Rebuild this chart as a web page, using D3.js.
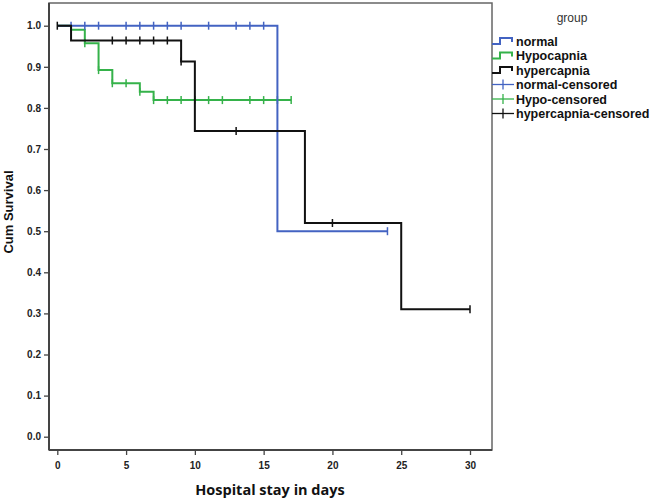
<!DOCTYPE html>
<html>
<head>
<meta charset="utf-8">
<script src="https://cdn.jsdelivr.net/npm/d3@7"></script>
<style>
  html, body { margin: 0; padding: 0; background: #fff; }
  svg { display: block; }
</style>
</head>
<body>
<svg id="chart" width="653" height="501"></svg>
<script>
// ---- data ----
const groups = ["normal", "Hypocapnia", "hypercapnia"];
const censorLabels = ["normal-censored", "Hypo-censored", "hypercapnia-censored"];

const normalT = [0, 16, 24];
const normalS = [1.0, 0.5, 0.5];
const normalCensT = [1, 2, 3, 5, 6, 7, 8, 9, 11, 13, 14, 15, 24];

const hypoT = [0, 1, 2, 3, 4, 6, 7, 17];
const hypoS = [1.0, 0.99, 0.957, 0.892, 0.86, 0.839, 0.819, 0.819];
const hypoCensT = [2, 3, 4, 5, 6, 7, 8, 9, 10, 11, 12, 14, 15, 16, 17];

const hyperT = [0, 1, 9, 10, 18, 25, 30];
const hyperS = [1.0, 0.964, 0.913, 0.744, 0.52, 0.31, 0.31];
const hyperCensT = [0, 4, 5, 6, 7, 8, 9, 13, 20, 30];

const xTicks = [0, 5, 10, 15, 20, 25, 30];
const yTicks = [0, 0.1, 0.2, 0.3, 0.4, 0.5, 0.6, 0.7, 0.8, 0.9, 1.0];

const colors = ["#4363c2", "#35b24a", "#111111"];

// ---- layout ----
const svg = d3.select("#chart");
const frame = { left: 49, top: 3, right: 492, bottom: 450 };
const x = d3.scaleLinear().domain([0, 30]).range([57.3, 470]);
const y = d3.scaleLinear().domain([0, 1]).range([436.7, 25.7]);

// frame
svg.append("rect")
  .attr("x", frame.left).attr("y", frame.top)
  .attr("width", frame.right - frame.left).attr("height", frame.bottom - frame.top)
  .attr("fill", "none").attr("stroke", "#666").attr("stroke-width", 1.5);
// axis lines (darker)
svg.append("line").attr("x1", frame.left).attr("x2", frame.left)
  .attr("y1", frame.top).attr("y2", frame.bottom)
  .attr("stroke", "#444").attr("stroke-width", 2);
svg.append("line").attr("x1", frame.left).attr("x2", frame.right)
  .attr("y1", frame.bottom).attr("y2", frame.bottom)
  .attr("stroke", "#444").attr("stroke-width", 2);

// axes
const yAxis = d3.axisLeft(y).tickValues(yTicks).tickFormat(d3.format(".1f"))
  .tickSize(5).tickPadding(3);
const gy = svg.append("g").attr("transform", `translate(${frame.left},0)`).call(yAxis);
gy.select(".domain").remove();
gy.selectAll("line").attr("stroke", "#444").attr("stroke-width", 1.3);
gy.selectAll("text").attr("font-family", "Liberation Sans, Arial, sans-serif")
  .attr("font-weight", "bold").attr("font-size", 10).attr("fill", "#222");

const xAxis = d3.axisBottom(x).tickValues(xTicks).tickFormat(d3.format("d"))
  .tickSize(5).tickPadding(7);
const gx = svg.append("g").attr("transform", `translate(0,${frame.bottom})`).call(xAxis);
gx.select(".domain").remove();
gx.selectAll("line").attr("stroke", "#444").attr("stroke-width", 1.3);
gx.selectAll("text").attr("font-family", "Liberation Sans, Arial, sans-serif")
  .attr("font-weight", "bold").attr("font-size", 10).attr("fill", "#222");

// titles
svg.append("text")
  .attr("transform", "translate(13,212) rotate(-90)")
  .attr("text-anchor", "middle")
  .attr("font-family", "Liberation Sans, Arial, sans-serif")
  .attr("font-weight", "bold").attr("font-size", 13).attr("fill", "#111")
  .text("Cum Survival");
svg.append("text")
  .attr("x", 270).attr("y", 495)
  .attr("text-anchor", "middle")
  .attr("font-family", "Open Sans, sans-serif")
  .attr("font-weight", "bold").attr("font-size", 14.5).attr("fill", "#111")
  .text("Hospital stay in days");

// ---- curves ----
const series = [
  { T: normalT, S: normalS, C: normalCensT },
  { T: hypoT, S: hypoS, C: hypoCensT },
  { T: hyperT, S: hyperS, C: hyperCensT }
];
function survAt(s, t) {
  let v = s.S[0];
  for (let i = 0; i < s.T.length; i++) if (s.T[i] <= t) v = s.S[i];
  return v;
}
const line = d3.line().x(d => x(d[0])).y(d => y(d[1])).curve(d3.curveStepAfter);
const order = [1, 0, 2];
order.forEach(i => {
  const s = series[i];
  const pts = s.T.map((t, k) => [t, s.S[k]]);
  svg.append("path").datum(pts)
    .attr("d", line).attr("fill", "none")
    .attr("stroke", colors[i]).attr("stroke-width", 2);
  svg.append("g").selectAll("line").data(s.C).join("line")
    .attr("x1", d => x(d)).attr("x2", d => x(d))
    .attr("y1", d => y(survAt(s, d)) - 4).attr("y2", d => y(survAt(s, d)) + 4)
    .attr("stroke", colors[i]).attr("stroke-width", 1.5);
});

// ---- legend ----
const lg = svg.append("g");
lg.append("text").attr("x", 572).attr("y", 22).attr("text-anchor", "middle")
  .attr("font-family", "Liberation Sans, Arial, sans-serif")
  .attr("font-size", 12).attr("fill", "#333").text("group");
const legendItems = groups.map((g, i) => ({ label: g, color: colors[i], type: "step" }))
  .concat(censorLabels.map((g, i) => ({ label: g, color: colors[i], type: "cens" })));
legendItems.forEach((it, i) => {
  const cy = 41 + i * 14.5;
  if (it.type === "step") {
    lg.append("path")
      .attr("d", `M492,${cy + 3}H500V${cy - 3}H512V${cy + 1}`)
      .attr("fill", "none").attr("stroke", it.color).attr("stroke-width", 2);
  } else {
    lg.append("line").attr("x1", 492).attr("x2", 514).attr("y1", cy).attr("y2", cy)
      .attr("stroke", it.color).attr("stroke-width", 1.3);
    lg.append("line").attr("x1", 503).attr("x2", 503).attr("y1", cy - 5).attr("y2", cy + 5)
      .attr("stroke", it.color).attr("stroke-width", 1.3);
  }
  lg.append("text").attr("x", 516).attr("y", cy + 4.5)
    .attr("font-family", "Liberation Sans, Arial, sans-serif")
    .attr("font-weight", "bold").attr("font-size", 12.5).attr("fill", "#111")
    .text(it.label);
});
</script>
</body>
</html>
